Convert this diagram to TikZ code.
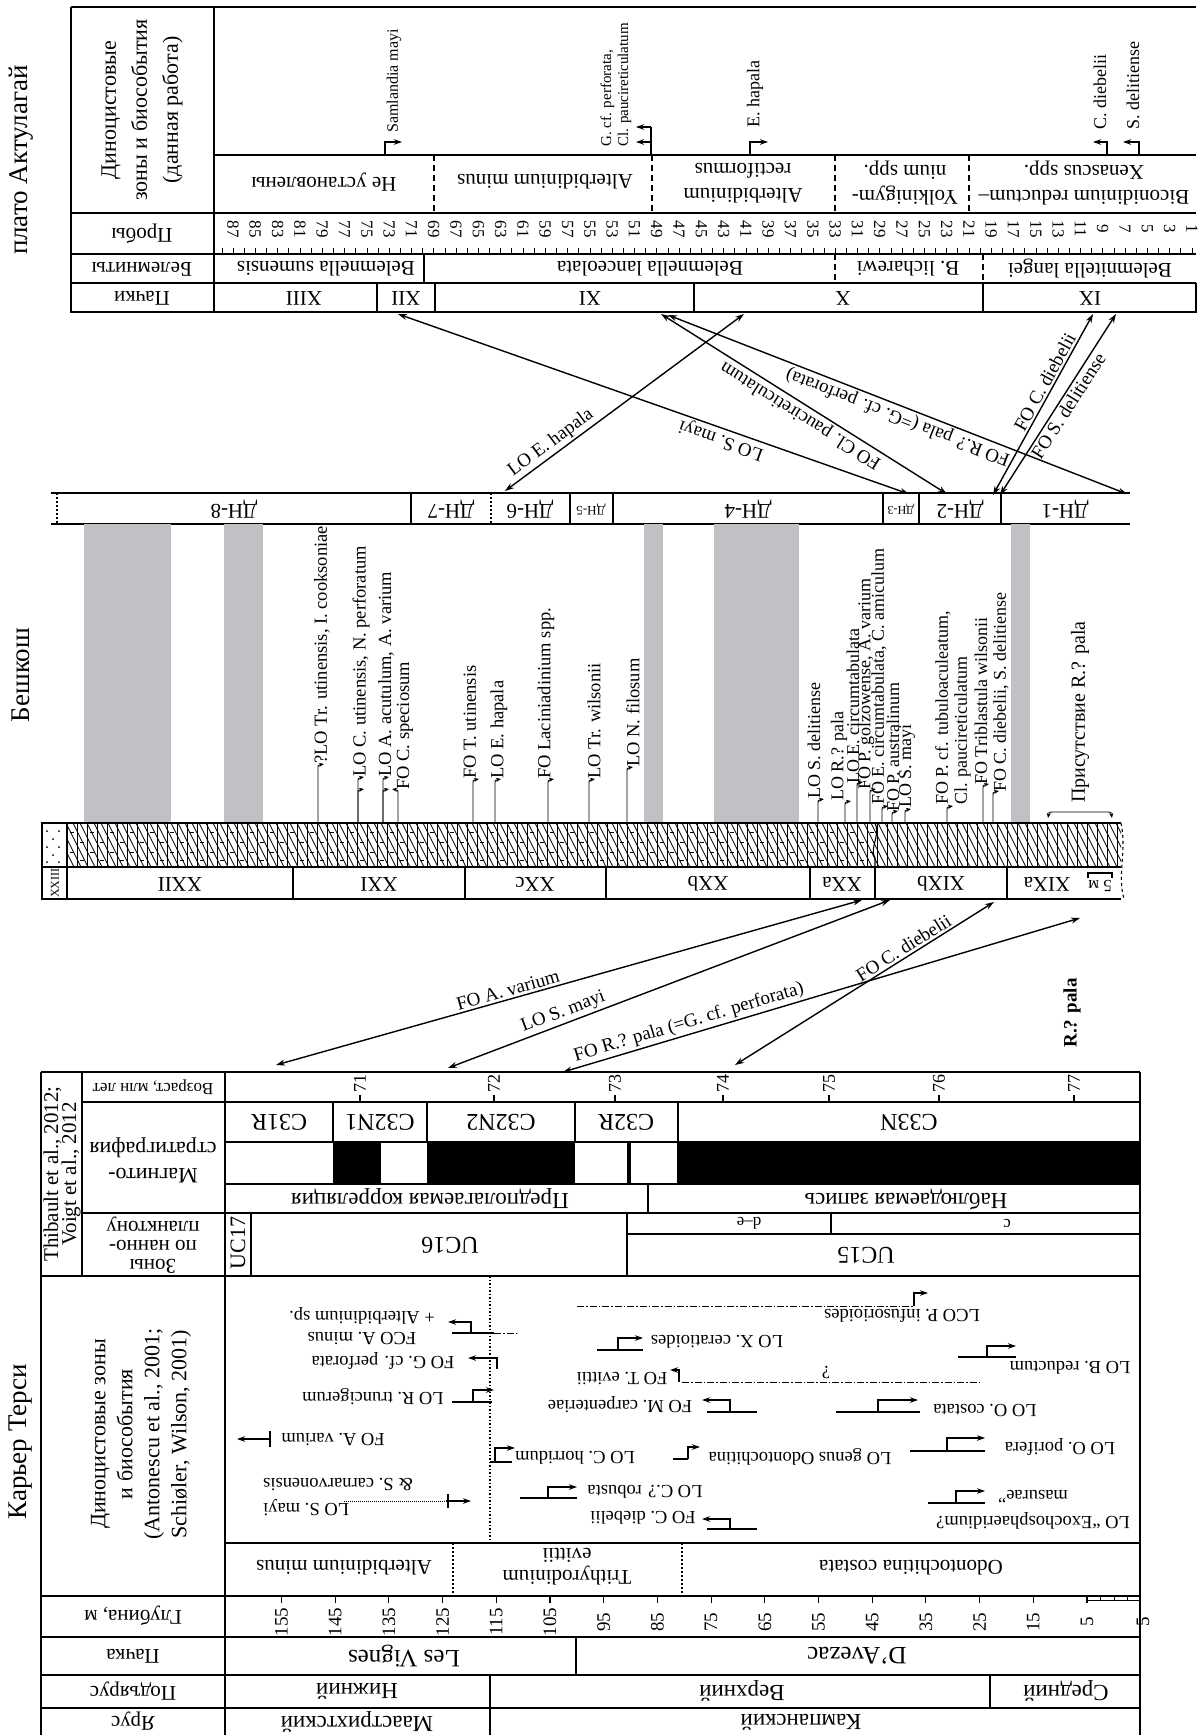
\documentclass[tikz,border=0pt]{standalone}
\usepackage{fontspec}
\setmainfont{Liberation Serif}
\usetikzlibrary{arrows.meta}

\definecolor{bargray}{RGB}{192,193,197}
\newcommand{\fsz}[2]{\fontsize{#1}{#2}\selectfont}
% hook arrows above the Beshkosh column (x, top y)
\newcommand{\bshook}[2]{\draw[hk] (#1,823) -- (#1,#2) .. controls (#1,#2-5) .. (#1+6,#2-6);}
\newcommand{\bshookl}[2]{\draw[hk] (#1,823) -- (#1,#2) .. controls (#1,#2-5) .. (#1-6,#2-6);}
% stepped event in the Tercis chart: base x1, base x2, step x, tip x, base y, top y
\newcommand{\tevent}[6]{\draw[rule] (#1,#5) -- (#2,#5); \draw[ev] (#3,#5) -- (#3,#6) -- (#4,#6);}

\tikzset{
  frame/.style={line width=1.8pt},
  rule/.style={line width=1.1pt},
  zdash/.style={line width=1.1pt, dash pattern=on 6pt off 4pt},
  zdot/.style={line width=1.1pt, dash pattern=on 2pt off 2pt},
  ddot/.style={line width=1pt, dash pattern=on 7pt off 2pt on 1.5pt off 2pt},
  ud/.style={rotate=180, inner sep=0pt, align=center},
  vup/.style={rotate=90, inner sep=0pt, align=center},
  lbl/.style={rotate=90, anchor=west, inner sep=0pt, align=left, font=\fsz{18.5}{18.5}},
  link/.style={<->, line width=1.4pt},
  hk/.style={-{Stealth[length=5pt,width=4pt]}, line width=0.9pt},
  ev/.style={-{Stealth[length=8pt,width=5.5pt]}, line width=1.1pt},
  slbl/.style={font=\fsz{19}{19}, sloped, allow upside down, inner sep=2pt},
}

\begin{document}
\begin{tikzpicture}[x=1pt, y=-1pt, >={Stealth[length=9pt,width=6pt]}, font=\fsz{21}{23}]
\useasboundingbox (0,0) rectangle (1201,1735);
%
% ---------- plato Aktulagai ----------
\node[vup, font=\fsz{27}{27}] (akt) at (21,160) {плато Актулагай};
\draw[frame] (71,7) -- (1196,7);
\draw[frame] (71,7) -- (71,312) -- (1196,312) -- (1196,283);
\draw[frame] (71,213) -- (1196,213);
\draw[rule] (214,7) -- (214,312);
\draw[rule] (214,155) -- (1196,155);
\draw[rule] (71,254) -- (1196,254);
\draw[rule] (71,283) -- (1196,283);
\foreach \x in {434,652,835,969} \draw[zdash] (\x,155) -- (\x,213);
\draw[rule] (424,254) -- (424,283);
\foreach \x in {835,983} \draw[zdash] (\x,254) -- (\x,283);
\foreach \x in {377,435,694,983} \draw[rule] (\x,283) -- (\x,312);
%
\node[vup, font=\fsz{22}{31}] (akhd) at (142,110) {Диноцистовые\\зоны и биособытия\\(данная работа)};
\node[ud] (akpr) at (142,234) {Пробы};
\node[ud] (akbel) at (142,269) {Белемниты};
\node[ud] (akpa) at (142,298) {Пачки};
%
\node[ud] (zA) at (324,182) {Не установлены};
\node[ud] (zB) at (545,182) {Alterbidinium minus};
\node[ud, font=\fsz{21}{25}] (zC) at (743,183) {Alterbidinium\\rectiformus};
\node[ud, font=\fsz{21}{25}] (zD) at (905,183) {Yolkinigym-\\nium spp.};
\node[ud, font=\fsz{21}{25}] (zE) at (1084,183) {Biconidinium reductum–\\Xenascus spp.};
%
\foreach \n in {1,...,88} \draw[line width=0.6pt] ({233+(87-\n)*11.15},248) -- ({233+(87-\n)*11.15},254);
\foreach \n in {1,3,...,87} \node[rotate=-90, inner sep=0pt, font=\fsz{17}{17}] (smp\n) at ({233+(87-\n)*11.15},229) {\n};
%
\node[ud] (bel1) at (326,269) {Belemnella sumensis};
\node[ud] (bel2) at (650,269) {Belemnella lanceolata};
\node[ud] (bel3) at (908,269) {B. licharewi};
\node[ud] (bel4) at (1090,269) {Belemnitella langei};
%
\node[ud] (pXIII) at (304,298) {XIII};
\node[ud] (pXII) at (406,298) {XII};
\node[ud] (pXI) at (590,298) {XI};
\node[ud] (pX) at (843,298) {X};
\node[ud] (pIX) at (1090,298) {IX};
%
\draw[ev] (385,155) -- (385,142) -- (402,142);
\node[lbl, font=\fsz{16}{16}] (evSm) at (394,133) {Samlandia mayi};
\draw[rule] (651,155) -- (651,127);
\draw[ev] (651,127) -- (636,127);
\draw[ev] (651,142) -- (636,142);
\node[lbl, font=\fsz{15}{17}] (evGC) at (616,147) {G. cf. perforata,\\Cl. paucireticulatum};
\draw[ev] (750,155) -- (750,142) -- (768,142);
\node[lbl, font=\fsz{18}{18}] (evEh) at (755,128) {E. hapala};
\draw[ev] (1107,155) -- (1107,142) -- (1093,142);
\node[lbl, font=\fsz{18}{18}] (evCd) at (1100,130) {C. diebelii};
\draw[ev] (1139,155) -- (1139,142) -- (1123,142);
\node[lbl, font=\fsz{18}{18}] (evSd) at (1133,130) {S. delitiense};
%
% ---------- correlation Aktulagai - Beshkosh ----------
\coordinate (aXII) at (398,314);
\coordinate (aXa) at (661,314);
\coordinate (aXb) at (668,315);
\coordinate (aXc) at (744,314);
\coordinate (aIXa) at (1093,314);
\coordinate (aIXb) at (1116,314);
\coordinate (dn6) at (505,491);
\coordinate (dn3) at (909,494);
\coordinate (dn2a) at (947,494);
\coordinate (dn1) at (1127,494);
\coordinate (dn2b) at (993,495);
\coordinate (dn2c) at (1000,495);
\draw[link] (dn6) -- node[slbl, above, pos=0.22] (lEh) {LO E. hapala} (aXc);
\draw[link] (dn3) -- node[slbl, above, pos=0.36] (lSm) {LO S. mayi} (aXII);
\draw[link] (dn2a) -- node[slbl, above, pos=0.49] (lCp) {FO Cl. paucireticulatum} (aXa);
\draw[link] (dn1) -- node[slbl, above, pos=0.49] (lRp) {FO R.? pala (=G. cf. perforata)} (aXb);
\draw[link] (dn2b) -- node[slbl, above, pos=0.6] (lCd) {FO C. diebelii} (aIXa);
\draw[link] (dn2c) -- node[slbl, below, pos=0.52] (lSd) {FO S. delitiense} (aIXb);
%
% ---------- Beshkosh ----------
\node[vup, font=\fsz{27}{27}] (besh) at (21,675) {Бешкош};
\draw[rule] (51,493) -- (1130,493);
\draw[rule] (51,524) -- (1130,524);
\draw[zdot] (57,493) -- (57,524);
\foreach \x in {411,570,613,883,919,1001} \draw[rule] (\x,493) -- (\x,524);
\draw[zdot] (491,493) -- (491,524);
\node[ud] (dnVIII) at (234,509) {ДН-8};
\node[ud] (dnVII) at (451,509) {ДН-7};
\node[ud] (dnVI) at (530,509) {ДН-6};
\node[ud, font=\fsz{13}{13}] (dnV) at (591,509) {ДН-5};
\node[ud] (dnIV) at (748,509) {ДН-4};
\node[ud, font=\fsz{12}{12}] (dnIII) at (901,509) {ДН-3};
\node[ud] (dnII) at (960,509) {ДН-2};
\node[ud] (dnI) at (1065,509) {ДН-1};
%
\foreach \a/\b in {84/171,224/263,644/663,714/799,1011/1030} \fill[bargray] (\a,524) rectangle (\b,823);
%
\begin{scope}
\clip (67,823) rectangle (1121,867);
\foreach \x in {67,77,...,1121} \draw[line width=0.6pt] (\x,823) -- (\x,867);
\foreach \x in {45,52,...,1121} \draw[line width=0.8pt] (\x,823) -- (\x+22,867);
\foreach \x in {72,92,...,872} \foreach \y in {832,852} \draw[line width=0.8pt] (\x-2,\y) -- (\x+2,\y);
\foreach \x in {82,102,...,872} \foreach \y in {842,860} \draw[line width=0.8pt] (\x-2,\y) -- (\x+2,\y);
\end{scope}
\foreach \x in {47,59} \foreach \y in {831,847,862} \fill (\x,\y) circle (1pt);
\foreach \y in {839,855} \fill (53,\y) circle (1pt);
\draw[frame] (1121,823) -- (42,823) -- (42,899) -- (1121,899);
\draw[rule] (42,867) -- (1121,867);
\draw[rule] (67,823) -- (67,899);
\draw[rule] (875,823) .. controls (881,835) and (869,848) .. (875,858) -- (875,867);
\draw[rule, dashed] (1121,823) .. controls (1127,850) and (1117,875) .. (1124,899);
\foreach \x in {293,465,606,810,875,1007} \draw[rule] (\x,867) -- (\x,899);
\node[vup, font=\fsz{12}{12}] (uXXIII) at (55,883) {XXIII};
\node[ud] (uXXII) at (180,884) {XXII};
\node[ud] (uXXI) at (379,884) {XXI};
\node[ud] (uXXc) at (535,884) {XXc};
\node[ud] (uXXb) at (708,884) {XXb};
\node[ud] (uXXa) at (842,884) {XXa};
\node[ud] (uXIXb) at (941,884) {XIXb};
\node[ud] (uXIXa) at (1047,884) {XIXa};
\draw[rule] (1088,878) -- (1088,873) -- (1112,873) -- (1112,878);
\node[ud, font=\fsz{17}{17}] (uscale) at (1100,886) {5 м};
%
\bshook{318}{770}
\node[lbl] (b01) at (322,764) {?LO Tr. utinensis, I. cooksoniae};
\bshook{358}{795} \bshook{358}{783}
\node[lbl] (b02) at (361,777) {LO C. utinensis, N. perforatum};
\bshook{383}{795} \bshook{383}{783}
\node[lbl] (b03) at (386,777) {LO A. acutulum, A. varium};
\bshookl{398}{795}
\node[lbl] (b04) at (405,790) {FO C. speciosum};
\bshook{473}{785}
\node[lbl] (b05) at (470,779) {FO T. utinensis};
\bshook{495}{785}
\node[lbl] (b06) at (499,779) {LO E. hapala};
\bshook{548}{785}
\node[lbl] (b07) at (546,779) {FO Laciniadinium spp.};
\bshook{589}{785}
\node[lbl] (b08) at (594,779) {LO Tr. wilsonii};
\bshook{627}{773}
\node[lbl] (b09) at (633,767) {LO N. filosum};
\bshook{818}{805}
\node[lbl, font=\fsz{18}{18}] (b10) at (814,799) {LO S. delitiense};
\bshook{845}{807}
\node[lbl, font=\fsz{18}{18}] (b11) at (839,801) {LO R.? pala};
\bshook{857}{788}
\node[lbl, font=\fsz{18}{18}] (b12) at (853,784) {LO E. circumtabulata};
\bshook{870}{795}
\node[lbl, font=\fsz{18}{18}] (b13) at (866,790) {FO P. golzowense, A. varium};
\bshook{882}{812}
\node[lbl, font=\fsz{18}{18}] (b14) at (879,805) {FO E. circumtabulata, C. amiculum};
\bshook{892}{817}
\node[lbl, font=\fsz{18}{18}] (b15) at (893,812) {FO P. australinum};
\bshook{905}{815}
\node[lbl, font=\fsz{18}{18}] (b16) at (907,808) {LO S. mayi};
\bshook{947}{812}
\node[lbl, font=\fsz{18}{19}] (b17) at (953,805) {FO P. cf. tubuloaculeatum,\\Cl. paucireticulatum};
\bshook{983}{790}
\node[lbl, font=\fsz{18}{18}] (b18) at (981,785) {FO Triblastula wilsonii};
\bshook{993}{797}
\node[lbl, font=\fsz{18}{18}] (b19) at (1001,792) {FO C. diebelii, S. delitiense};
\draw[hk] (1080,812) -- (1052,812) .. controls (1049,812) .. (1048,818);
\draw[hk] (1080,812) -- (1108,812) .. controls (1111,812) .. (1112,818);
\node[lbl, font=\fsz{20}{20}] (b20) at (1080,803) {Присутствие R.? pala};
%
% ---------- correlation Beshkosh - Tercis ----------
\coordinate (bA) at (862,900);
\coordinate (bS) at (890,900);
\coordinate (bC) at (994,902);
\coordinate (bR) at (1080,918);
\coordinate (tA) at (276,1065);
\coordinate (tS) at (448,1068);
\coordinate (tR) at (563,1072);
\coordinate (tC) at (735,1065);
\draw[link] (tA) -- node[slbl, above, pos=0.40] (lAv) {FO A. varium} (bA);
\draw[link] (tS) -- node[slbl, above, pos=0.27] (lSm2) {LO S. mayi} (bS);
\draw[link] (tR) -- node[slbl, above, pos=0.25] (lRp2) {FO R.? pala (=G. cf. perforata)} (bR);
\draw[link] (tC) -- node[slbl, above, pos=0.67] (lCd2) {FO C. diebelii} (bC);
\node[vup, font=\bfseries\fsz{19}{19}] (rpala) at (1072,1013) {R.? pala};
%
% ---------- Karier Tersi ----------
\node[vup, font=\fsz{27}{27}] (ter) at (21,1442) {Карьер Терси};
\draw[frame] (41,1072) -- (1140,1072);
\draw[frame] (41,1072) -- (41,1735);
\draw[frame] (1140,1072) -- (1140,1735);
\draw[rule] (225,1072) -- (225,1735);
\draw[rule] (82,1072) -- (82,1276);
\draw[rule] (82,1102) -- (1140,1102);
\draw[rule] (225,1142) -- (1140,1142);
\draw[rule] (225,1184) -- (1140,1184);
\draw[rule] (82,1213) -- (1140,1213);
\draw[frame] (41,1276) -- (1140,1276);
\draw[rule] (225,1543) -- (1140,1543);
\foreach \y in {1596,1637,1675,1708} \draw[rule] (41,\y) -- (1140,\y);
%
\node[vup, font=\fsz{21}{18}] (tvref) at (62,1174) {Thibault et al., 2012;\\Voigt et al., 2012};
\node[ud, font=\fsz{17}{17}] (thage) at (153,1087) {Возраст, млн лет};
\node[ud, font=\fsz{22}{26}] (thmag) at (153,1160) {Магнито-\\стратиграфия};
\node[ud, font=\fsz{21}{19}] (thnan) at (153,1245) {Зоны\\по нанно-\\планктону};
\node[vup, font=\fsz{22}{27}] (thdin) at (141,1434) {Диноцистовые зоны\\и биособытия\\(Antonescu et al., 2001;\\Schiøler, Wilson, 2001)};
\node[ud] (thdep) at (133,1616) {Глубина, м};
\node[ud] (thpa) at (133,1656) {Пачка};
\node[ud] (thsub) at (133,1691) {Подъярус};
\node[ud] (thst) at (133,1721) {Ярус};
%
\foreach \a/\x in {71/360,72/494,73/615,74/723,75/829,76/939,77/1074} {
  \draw[rule] (\x,1095) -- (\x,1102);
  \node[vup, font=\fsz{18}{18}] (age\a) at (\x,1083) {\a};
}
\foreach \x in {333,427,575,678} \draw[rule] (\x,1102) -- (\x,1142);
\node[ud, font=\fsz{24}{24}] (cA) at (279,1122) {C31R};
\node[ud, font=\fsz{24}{24}] (cB) at (380,1122) {C32N1};
\node[ud, font=\fsz{24}{24}] (cC) at (501,1122) {C32N2};
\node[ud, font=\fsz{24}{24}] (cD) at (626,1122) {C32R};
\node[ud, font=\fsz{24}{24}] (cE) at (909,1122) {C33N};
\fill (333,1142) rectangle (381,1184);
\fill (427,1142) rectangle (575,1184);
\fill (627,1142) rectangle (631,1184);
\fill (677,1142) rectangle (1140,1184);
\draw[rule] (648,1184) -- (648,1213);
\node[ud, font=\fsz{23}{23}] (corA) at (430,1199) {Предполагаемая корреляция};
\node[ud, font=\fsz{23}{23}] (corB) at (906,1199) {Наблюдаемая запись};
%
\draw[rule] (251,1213) -- (251,1276);
\draw[rule] (627,1213) -- (627,1276);
\draw[rule] (627,1234) -- (1140,1234);
\draw[rule] (831,1213) -- (831,1234);
\node[vup, font=\fsz{22}{22}] (ucA) at (238,1243) {UC17};
\node[ud, font=\fsz{24}{24}] (ucB) at (450,1245) {UC16};
\node[ud, font=\fsz{24}{24}] (ucC) at (866,1255) {UC15};
\node[ud, font=\fsz{17}{17}] (ucD) at (749,1223) {d–e};
\node[ud, font=\fsz{17}{17}] (ucE) at (1007,1223) {c};
%
% dinocyst events, Tercis
\draw[line width=1.3pt, dash pattern=on 1.5pt off 2pt] (490,1276) -- (490,1543);
\begin{scope}[every node/.style={ud, font=\fsz{18.5}{21}}]
\draw[ddot] (577,1306) -- (914,1306);
\draw[ev] (914,1306) -- (914,1293) -- (928,1293);
\node (eA) at (902,1316) {LCO P. infusorioides};
\draw[rule] (452,1333) -- (494,1333);
\draw[ddot] (494,1333) -- (519,1333);
\draw[ev] (471,1333) -- (471,1322) -- (448,1322);
\node (eB) at (362,1326) {FCO A. minus\\+ Alterbidinium sp.};
\draw[ev] (497,1369) -- (497,1358) -- (468,1358);
\node (eC) at (383,1361) {FO G. cf. perforata};
\tevent{452}{492}{473}{494}{1402}{1390}
\node (eD) at (373,1397) {LO R. truncigerum};
\draw[ev] (270,1439) -- (237,1439);
\draw[rule] (270,1431) -- (270,1447);
\node (eE) at (333,1439) {FO A. varium};
\tevent{490}{512}{495}{515}{1462}{1448}
\node (eF) at (575,1458) {LO C. horridum};
\draw[line width=0.6pt, dash pattern=on 1pt off 1pt] (344,1501) -- (446,1501);
\draw[ev] (446,1501) -- (471,1501);
\draw[rule] (448,1494) -- (448,1508);
\node[align=right, font=\fsz{18.5}{25}] (eG) at (338,1497) {LO S. mayi\\\& S. carnarvonensis};
\tevent{520}{577}{548}{577}{1498}{1487}
\node (eH) at (645,1492) {LO C.? robusta};
\tevent{707}{757}{730}{702}{1529}{1519}
\node (eI) at (643,1518) {FO C. diebelii};
\tevent{707}{757}{730}{702}{1412}{1400}
\node (eJ) at (620,1405) {FO M. carpenteriae};
\draw[ddot] (682,1382) -- (981,1382);
\draw[ev] (679,1382) -- (679,1370) -- (670,1370);
\node (eK) at (622,1378) {FO T. evittii};
\node (eKq) at (826,1372) {?};
\tevent{597}{643}{618}{643}{1350}{1338}
\node (eL) at (717,1342) {LO X. ceratioides};
\tevent{673}{688}{688}{700}{1459}{1447}
\node (eM) at (800,1457) {LO genus Odontochitina};
\tevent{836}{920}{878}{918}{1412}{1400}
\node (eN) at (985,1410) {LO O. costata};
\tevent{910}{985}{947}{985}{1451}{1438}
\node (eO) at (1060,1447) {LO O. porifera};
\tevent{958}{1016}{987}{1016}{1357}{1346}
\node (eP) at (1070,1368) {LO B. reductum};
\tevent{928}{985}{956}{985}{1503}{1491}
\node[font=\fsz{18.5}{26}] (eQ) at (1033,1510) {LO “Exochosphaeridium?\\masurae”};
\end{scope}
%
\draw[zdot] (453,1543) -- (453,1596);
\draw[zdot] (682,1543) -- (682,1596);
\node[ud] (dzA) at (344,1568) {Alterbidinium minus};
\node[ud, font=\fsz{21}{22}] (dzB) at (567,1567) {Trithyrodinium\\evittii};
\node[ud] (dzC) at (911,1568) {Odontochitina costata};
%
\foreach \d in {155,145,...,5} {
  \draw[rule] ({1087-(\d-5)*5.37},1596) -- ({1087-(\d-5)*5.37},1603);
  \node[vup, font=\fsz{19}{19}] (dep\d) at ({1087-(\d-5)*5.37},1622) {\d};
}
\draw[line width=0.8pt] (1087,1600) -- (1140,1600);
\foreach \x in {1100,1114,1127} \draw[line width=0.6pt] (\x,1596) -- (\x,1600);
\node[vup, font=\fsz{19}{19}] (depr) at (1143,1622) {5};
%
\draw[rule] (576,1637) -- (576,1675);
\node[ud, font=\fsz{25}{25}] (paA) at (404,1656) {Les Vignes};
\node[ud, font=\fsz{25}{25}] (paB) at (857,1656) {D’Avezac};
\draw[rule] (490,1675) -- (490,1735);
\draw[rule] (990,1675) -- (990,1708);
\node[ud, font=\fsz{23}{23}] (suA) at (357,1691) {Нижний};
\node[ud, font=\fsz{23}{23}] (suB) at (742,1691) {Верхний};
\node[ud, font=\fsz{23}{23}] (suC) at (1066,1691) {Средний};
\node[ud, font=\fsz{23}{23}] (stA) at (357,1722) {Маастрихтский};
\node[ud, font=\fsz{23}{23}] (stB) at (801,1722) {Кампанский};
\end{tikzpicture}
\end{document}
